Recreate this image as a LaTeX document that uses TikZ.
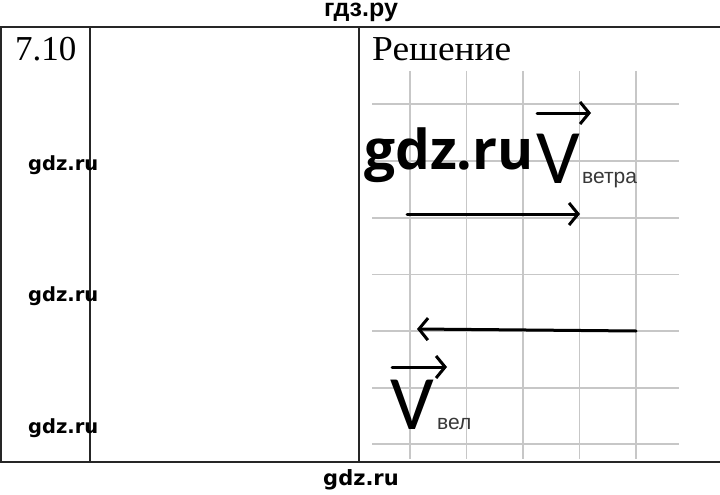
\documentclass[tikz,border=0pt]{standalone}
\usepackage{fontspec}
\setmainfont{Liberation Serif}
\newfontfamily\vfont{Carlito}
\newfontfamily\subfont{Liberation Sans}
\newfontfamily\wmfont{DejaVu Sans}
\newfontfamily\bigwmfont{Open Sans}
\newfontfamily\topfont{Liberation Sans}
\usetikzlibrary{arrows.meta}
\tikzset{
  frameline/.style={draw=black!85, line width=1.6pt},
  gridline/.style={draw=black!22, line width=1.8pt},
  vecarrow/.style={line width=3pt, line cap=round, -{Straight Barb[length=9pt,width=22pt,line width=3pt]}},
  wm/.style={inner sep=0, font=\wmfont\bfseries\fontsize{19.5}{22}\selectfont},
  bigwm/.style={inner sep=0, font=\bigwmfont\bfseries\fontsize{55}{60}\selectfont},
  vlabel/.style={inner sep=0, anchor=south west, font=\vfont\fontsize{77}{80}\selectfont},
  sublabel/.style={inner sep=0, anchor=base west, font=\subfont\fontsize{21}{24}\selectfont, text=black!78},
  serif/.style={inner sep=0, anchor=base west, font=\fontsize{35}{40}\selectfont}
}
\begin{document}
\begin{tikzpicture}[x=1pt,y=-1pt]
\useasboundingbox (0,0) rectangle (720,495);
\fill[white] (0,0) rectangle (720,495);
% grid
\foreach \gx in {410,466.5,523,579.5,636} \draw[gridline] (\gx,71) -- (\gx,459);
\foreach \gy in {104,161,218,274.5,331,388,444} \draw[gridline] (372,\gy) -- (679,\gy);
% table frame
\draw[frameline] (0,27) -- (720,27);
\draw[frameline] (0,462) -- (720,462);
\draw[frameline] (1,27) -- (1,462);
\draw[frameline] (90,27) -- (90,462);
\draw[frameline] (359,27) -- (359,462);
% texts
\node[serif] (num) at (15,61) {7.10};
\node[serif, xscale=1.07] (sol) at (372,61) {Решение};
% vectors
\coordinate (a1s) at (407,214);
\coordinate (a1e) at (580,214);
\draw[vecarrow] (a1s) -- (a1e);
\coordinate (a2s) at (636,331);
\coordinate (a2e) at (417,329);
\draw[vecarrow] (a2s) -- (a2e);
% labels
\node[vlabel] (Vw) at (536,184) {V};
\node[sublabel] (vw) at (582,183) {ветра};
\coordinate (vws) at (537,113);
\coordinate (vwe) at (591,113);
\draw[vecarrow] (vws) -- (vwe);
\node[vlabel] (Vb) at (390,430) {V};
\node[sublabel] (vb) at (437,429) {вел};
\coordinate (vbs) at (392,367);
\coordinate (vbe) at (447,367);
\draw[vecarrow] (vbs) -- (vbe);
% watermarks
\node[inner sep=0, anchor=base, text height=13pt, text depth=4pt, font=\topfont\bfseries\fontsize{25}{28}\selectfont] (top) at (361,17) {гдз.ру};
\node[wm, anchor=base west] (w1) at (28,170) {gdz.ru};
\node[wm, anchor=base west] (w2) at (28,301) {gdz.ru};
\node[wm, anchor=base west] (w3) at (28,433) {gdz.ru};
\node[wm, anchor=base, font=\wmfont\bfseries\fontsize{21}{24}\selectfont] (w4) at (361,485) {gdz.ru};
\node[bigwm, anchor=base west] (wb) at (364,169) {gdz.ru};
\end{tikzpicture}
\end{document}
